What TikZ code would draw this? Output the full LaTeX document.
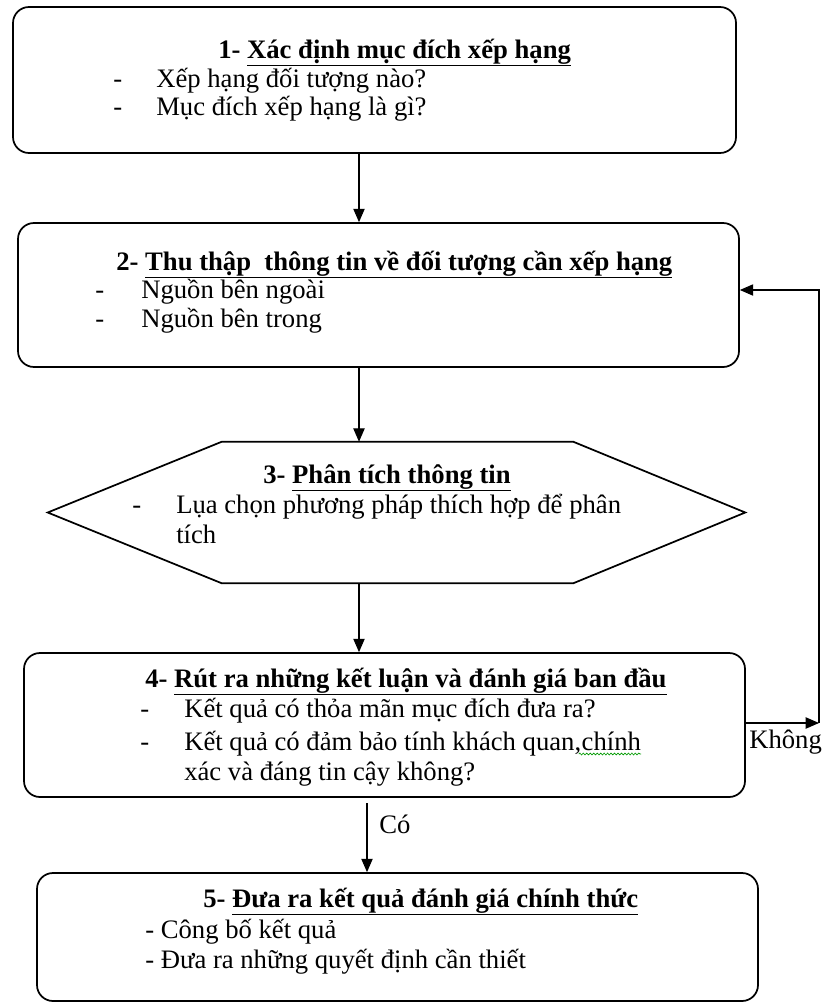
\documentclass[tikz,border=0pt]{standalone}
\usepackage{fontspec}
\setmainfont{Liberation Serif}
\usetikzlibrary{arrows.meta,decorations.pathmorphing,calc}
\begin{document}
\begin{tikzpicture}[x=0.75pt,y=-0.75pt,
  box/.style={draw, line width=1.3pt, rounded corners=12pt, inner sep=0pt},
  txt/.style={anchor=base west, inner sep=0pt, font=\fontsize{20}{24}\selectfont},
  ttl/.style={anchor=base west, inner sep=0pt, font=\fontsize{20}{24}\selectfont\bfseries},
  arr/.style={-{Triangle[length=10pt,width=8.5pt]}, line width=0.8pt},
  spell/.style={draw=green!60!black, line width=0.5pt, decorate,
    decoration={snake, amplitude=0.7pt, segment length=2.6pt}}]
\useasboundingbox (0,0) rectangle (826,1003);

% boxes
\node[box, minimum width={723*0.75pt}, minimum height={146*0.75pt}] (b1) at (374.5,80) {};
\node[box, minimum width={721*0.75pt}, minimum height={144*0.75pt}] (b2) at (378.5,295) {};
\node[inner sep=0pt, minimum width={351*0.75pt}, minimum height={141*0.75pt}] (hx) at (397.5,512.5) {};
\draw[line width=1.3pt] (hx.north west) -- (hx.north east) -- ($(hx.east)+(172,0)$)
  -- (hx.south east) -- (hx.south west) -- ($(hx.west)+(-174,0)$) -- cycle;
\node[box, minimum width={721*0.75pt}, minimum height={144*0.75pt}] (b4) at (384.5,725) {};
\node[box, minimum width={721*0.75pt}, minimum height={128*0.75pt}] (b5) at (397.5,937) {};

% box 1 text
\node[ttl] (t1) at (218,58) {1- \underline{Xác định mục đích xếp hạng}};
\node[txt] (d11) at (113,87) {-};
\node[txt] (i11) at (156,87) {Xếp hạng đối tượng nào?};
\node[txt] (d12) at (113,115) {-};
\node[txt] (i12) at (156,115) {Mục đích xếp hạng là gì?};

% box 2 text
\node[ttl] (t2) at (116,270) {2- \underline{Thu thập\ \ thông tin về đối tượng cần xếp hạng}};
\node[txt] (d21) at (95,298) {-};
\node[txt] (i21) at (141,298) {Nguồn bên ngoài};
\node[txt] (d22) at (95,327) {-};
\node[txt] (i22) at (141,327) {Nguồn bên trong};

% hexagon text
\node[ttl] (t3) at (263,483) {3- \underline{Phân tích thông tin}};
\node[txt] (d31) at (132,513) {-};
\node[txt] (i31) at (176,513) {Lụa chọn phương pháp thích hợp để phân};
\node[txt] (i31b) at (176,543) {tích};

% box 4 text
\node[ttl] (t4) at (145,687) {4- \underline{Rút ra những kết luận và đánh giá ban đầu}};
\node[txt] (d41) at (140,717) {-};
\node[txt] (i41) at (184,717) {Kết quả có thỏa mãn mục đích đưa ra?};
\node[txt] (d42) at (140,750) {-};
\node[txt] (i42) at (184,750) {Kết quả có đảm bảo tính khách quan,};
\node[txt, anchor=base west] (i42b) at (i42.base east) {chính};
\node[txt] (i42c) at (184,780) {xác và đáng tin cậy không?};
\draw[spell] ([yshift=-3pt,xshift=-2pt]i42b.base west) -- ([yshift=-3pt]i42b.base east);

% box 5 text
\node[ttl] (t5) at (203,907) {5- \underline{Đưa ra kết quả đánh giá chính thức}};
\node[txt] (i51) at (145,938) {- Công bố kết quả};
\node[txt] (i52) at (145,968) {- Đưa ra những quyết định cần thiết};

% connectors
\coordinate (ax) at (359,0);
\coordinate (ay) at (367,0);
\draw[arr] (b1.south -| ax) -- (b2.north -| ax);
\draw[arr] (b2.south -| ax) -- (hx.north -| ax);
\draw[arr] (hx.south -| ax) -- (b4.north -| ax);
\draw[arr] ([yshift=-4pt]b4.south -| ay) -- (b5.north -| ay);
\node[txt] (co) at (379,833) {Có};

\coordinate (fb) at (819,723);
\coordinate (fbt) at (819,290);
\draw[arr] (b4.east |- fb) -- (fb);
\draw[arr] (fb) -- (fbt) -- (b2.east |- fbt);
\node[txt] (kh) at (749,748) {Không};
\end{tikzpicture}
\end{document}
